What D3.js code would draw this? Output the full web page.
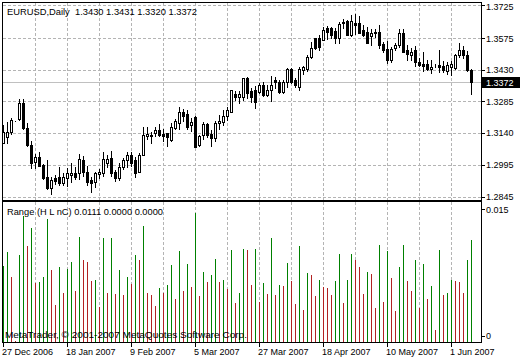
<!DOCTYPE html>
<html>
<head>
<meta charset="utf-8">
<script src="https://cdn.jsdelivr.net/npm/d3@7"></script>
<style>
  body { margin: 0; background: #fff; }
  svg text { font-family: "Liberation Sans", Arial, sans-serif; font-size: 9px; fill: #000; }
  svg text.title { font-size: 9.5px; }
</style>
</head>
<body>
<div id="chart"></div>
<script>
// EURUSD daily, 27 Dec 2006 .. 8 Jun 2007 (118 bars)
var open = [1.3093,1.3123,1.3146,1.3193,1.3204,1.3276,1.3161,1.3085,1.3008,1.3031,1.2993,1.2939,1.2886,1.2932,1.2937,1.2912,1.2932,1.2947,1.2955,1.2955,
  1.3016,1.2962,1.2924,1.2916,1.2950,1.2958,1.3001,1.3024,1.2962,1.2932,1.2985,1.3016,1.3039,1.3016,1.2959,1.3039,1.3127,1.3128,1.3141,1.3153,
  1.3135,1.3138,1.3108,1.3163,1.3184,1.3237,1.3227,1.3176,1.3212,1.3085,1.3131,1.3181,1.3135,1.3115,1.3184,1.3192,1.3218,1.3237,1.3318,1.3306,
  1.3306,1.3390,1.3332,1.3337,1.3328,1.3360,1.3314,1.3337,1.3383,1.3375,1.3329,1.3375,1.3433,1.3383,1.3352,1.3428,1.3433,1.3489,1.3574,1.3576,
  1.3566,1.3620,1.3620,1.3607,1.3574,1.3650,1.3653,1.3589,1.3642,1.3642,1.3612,1.3603,1.3584,1.3603,1.3603,1.3548,1.3527,1.3474,1.3528,1.3543,
  1.3596,1.3520,1.3497,1.3522,1.3465,1.3458,1.3455,1.3433,1.3447,1.3451,1.3447,1.3426,1.3444,1.3436,1.3495,1.3520,1.3497,1.3430];
var high = [1.3176,1.3192,1.3208,1.3194,1.3296,1.3296,1.3184,1.3103,1.3043,1.3053,1.2998,1.3016,1.2939,1.2945,1.2982,1.2956,1.2979,1.3001,1.2984,1.3043,
  1.3034,1.2988,1.2938,1.2962,1.2973,1.3054,1.3039,1.3057,1.2970,1.3002,1.3027,1.3053,1.3053,1.3031,1.3048,1.3167,1.3167,1.3144,1.3165,1.3183,
  1.3158,1.3140,1.3185,1.3204,1.3257,1.3250,1.3245,1.3208,1.3218,1.3131,1.3190,1.3185,1.3153,1.3195,1.3222,1.3245,1.3257,1.3339,1.3332,1.3332,
  1.3394,1.3398,1.3346,1.3355,1.3369,1.3373,1.3360,1.3401,1.3396,1.3383,1.3383,1.3438,1.3438,1.3392,1.3442,1.3447,1.3497,1.3558,1.3577,1.3589,
  1.3626,1.3630,1.3626,1.3621,1.3648,1.3662,1.3657,1.3681,1.3683,1.3678,1.3635,1.3626,1.3616,1.3616,1.3635,1.3557,1.3561,1.3534,1.3552,1.3616,
  1.3616,1.3543,1.3529,1.3538,1.3483,1.3511,1.3474,1.3474,1.3454,1.3520,1.3470,1.3465,1.3472,1.3502,1.3552,1.3538,1.3516,1.3431];
var low = [1.3093,1.3095,1.3137,1.3193,1.3199,1.3158,1.3079,1.2979,1.2979,1.2987,1.2927,1.2882,1.2860,1.2905,1.2900,1.2903,1.2899,1.2914,1.2928,1.2928,
  1.2944,1.2901,1.2871,1.2894,1.2935,1.2941,1.2985,1.2944,1.2918,1.2923,1.2976,1.2982,1.2990,1.2936,1.2959,1.3039,1.3113,1.3093,1.3126,1.3124,
  1.3104,1.3078,1.3101,1.3157,1.3158,1.3194,1.3160,1.3148,1.3077,1.3081,1.3114,1.3120,1.3080,1.3104,1.3156,1.3177,1.3199,1.3237,1.3289,1.3278,
  1.3292,1.3298,1.3284,1.3253,1.3325,1.3309,1.3308,1.3288,1.3345,1.3321,1.3322,1.3352,1.3371,1.3351,1.3337,1.3412,1.3422,1.3485,1.3527,1.3521,
  1.3566,1.3571,1.3575,1.3554,1.3552,1.3619,1.3589,1.3585,1.3594,1.3596,1.3583,1.3550,1.3542,1.3579,1.3529,1.3513,1.3462,1.3464,1.3518,1.3534,
  1.3510,1.3476,1.3473,1.3448,1.3446,1.3426,1.3427,1.3413,1.3441,1.3420,1.3419,1.3411,1.3404,1.3435,1.3486,1.3485,1.3426,1.3320];
var close = [1.3146,1.3146,1.3199,1.3193,1.3277,1.3161,1.3085,1.3001,1.3031,1.2990,1.2933,1.2886,1.2924,1.2921,1.2909,1.2937,1.2955,1.2956,1.2939,1.3019,
  1.2962,1.2916,1.2909,1.2955,1.2962,1.3019,1.3019,1.2958,1.2932,1.2985,1.3016,1.3039,1.3001,1.2955,1.3039,1.3131,1.3135,1.3131,1.3153,1.3131,
  1.3126,1.3123,1.3169,1.3195,1.3237,1.3219,1.3169,1.3192,1.3077,1.3126,1.3181,1.3131,1.3115,1.3187,1.3196,1.3218,1.3245,1.3337,1.3306,1.3318,
  1.3390,1.3322,1.3305,1.3283,1.3360,1.3314,1.3337,1.3360,1.3373,1.3329,1.3375,1.3433,1.3375,1.3360,1.3433,1.3441,1.3489,1.3528,1.3528,1.3535,
  1.3612,1.3604,1.3589,1.3574,1.3638,1.3642,1.3589,1.3653,1.3635,1.3598,1.3589,1.3554,1.3598,1.3596,1.3545,1.3522,1.3474,1.3527,1.3543,1.3596,
  1.3512,1.3502,1.3512,1.3466,1.3451,1.3447,1.3435,1.3444,1.3447,1.3444,1.3428,1.3451,1.3454,1.3497,1.3520,1.3497,1.3428,1.3372];
// Range indicator (high - low) as read from the lower window
var range = [0.0083,0.0098,0.0071,0.0001,0.0095,0.0138,0.0105,0.0124,0.0064,0.0066,0.0071,0.0134,0.0079,0.0040,0.0082,0.0053,0.0080,0.0087,0.0056,0.0115,
  0.0090,0.0087,0.0067,0.0068,0.0038,0.0113,0.0054,0.0113,0.0052,0.0079,0.0051,0.0071,0.0063,0.0095,0.0089,0.0127,0.0054,0.0051,0.0039,0.0059,
  0.0054,0.0062,0.0084,0.0047,0.0099,0.0056,0.0085,0.0060,0.0141,0.0050,0.0076,0.0065,0.0073,0.0091,0.0066,0.0068,0.0058,0.0100,0.0043,0.0054,
  0.0102,0.0100,0.0062,0.0102,0.0044,0.0064,0.0052,0.0113,0.0051,0.0062,0.0061,0.0086,0.0067,0.0041,0.0105,0.0035,0.0075,0.0073,0.0050,0.0068,
  0.0060,0.0059,0.0051,0.0067,0.0096,0.0043,0.0068,0.0096,0.0089,0.0082,0.0052,0.0076,0.0074,0.0037,0.0106,0.0044,0.0099,0.0070,0.0034,0.0082,
  0.0106,0.0067,0.0056,0.0090,0.0037,0.0085,0.0047,0.0061,0.0013,0.0100,0.0051,0.0054,0.0068,0.0067,0.0066,0.0053,0.0090,0.0111];

var priceTicks = [1.3725, 1.3575, 1.3430, 1.3285, 1.3140, 1.2995, 1.2845];
var rangeTicks = ["0.015", "0"];
var dateTickIdx = [0, 16, 32, 48, 64, 80, 96, 112];
var dateTickLabels = ["27 Dec 2006", "18 Jan 2007", "9 Feb 2007", "5 Mar 2007", "27 Mar 2007", "18 Apr 2007", "10 May 2007", "1 Jun 2007"];

var W = 520, H = 360;
var left = 2, right = 481;
var mainTop = 2, mainBot = 200;
var indTop = 201, indBot = 342;
var gridColor = "#b4b4b4";

var svg = d3.select("#chart").append("svg")
    .attr("width", W)
    .attr("height", H);

var n = close.length;
var x = d3.scaleLinear().domain([0, n - 1]).range([3.5, 3.5 + 4 * (n - 1)]);
var y = d3.scaleLinear().domain([1.2845, 1.3725]).range([197.3, 5.3]);
var yr = d3.scaleLinear().domain([0, 0.015]).range([indBot, 204.6]);

function py(v) { return Math.round(y(v)) + 0.5; }

// grid - main window and indicator window
var grid = svg.append("g").attr("stroke", gridColor).attr("stroke-dasharray", "3,2");
grid.selectAll("line.h").data(priceTicks).enter().append("line")
    .attr("x1", left + 1).attr("x2", right)
    .attr("y1", function(d) { return py(d); })
    .attr("y2", function(d) { return py(d); });
var vIdx = d3.range(8, n, 8);
grid.selectAll("line.v").data(vIdx).enter().append("line")
    .attr("x1", function(d) { return x(d); }).attr("x2", function(d) { return x(d); })
    .attr("y1", mainTop + 1).attr("y2", mainBot);
grid.selectAll("line.vi").data(vIdx).enter().append("line")
    .attr("x1", function(d) { return x(d); }).attr("x2", function(d) { return x(d); })
    .attr("y1", indTop + 1).attr("y2", indBot);

// last price line
var last = close[n - 1];
svg.append("line")
    .attr("x1", left + 1).attr("x2", right)
    .attr("y1", py(last)).attr("y2", py(last))
    .attr("stroke", "#c0c0c0");

// candles
var candles = svg.append("g").selectAll("g").data(d3.range(n)).enter().append("g");
candles.append("line")
    .attr("x1", function(i) { return x(i); }).attr("x2", function(i) { return x(i); })
    .attr("y1", function(i) { return py(high[i]) - 0.5; })
    .attr("y2", function(i) { return py(low[i]) + 0.5; })
    .attr("stroke", "#000");
candles.append("rect")
    .attr("x", function(i) { return x(i) - 1; })
    .attr("width", 2)
    .attr("y", function(i) { return py(Math.max(open[i], close[i])); })
    .attr("height", function(i) { return py(Math.min(open[i], close[i])) - py(Math.max(open[i], close[i])); })
    .attr("fill", function(i) { return close[i] >= open[i] ? "#fff" : "#000"; })
    .attr("stroke", "#000");

// range bars, green when the range grows, red when it shrinks
svg.append("g").selectAll("line").data(d3.range(n)).enter().append("line")
    .attr("x1", function(i) { return x(i); }).attr("x2", function(i) { return x(i); })
    .attr("y1", indBot)
    .attr("y2", function(i) { return Math.round(yr(range[i])); })
    .attr("stroke", function(i) { return (i == 0 || range[i] > range[i - 1]) ? "#008000" : "#b22222"; });

// frames
svg.append("rect").attr("x", left + 0.5).attr("y", mainTop + 0.5)
    .attr("width", right - left).attr("height", mainBot - mainTop)
    .attr("fill", "none").attr("stroke", "#000");
svg.append("rect").attr("x", left + 0.5).attr("y", indTop + 0.5)
    .attr("width", right - left).attr("height", indBot - indTop)
    .attr("fill", "none").attr("stroke", "#000");

// price axis
var axisG = svg.append("g");
axisG.selectAll("line").data(priceTicks).enter().append("line")
    .attr("x1", right).attr("x2", right + 4)
    .attr("y1", function(d) { return py(d); }).attr("y2", function(d) { return py(d); })
    .attr("stroke", "#000");
axisG.selectAll("text").data(priceTicks).enter().append("text")
    .attr("x", right + 5)
    .attr("y", function(d) { return Math.min(Math.max(y(d), 6), 196) + 3.5; })
    .text(function(d) { return d.toFixed(4); });

// last price tag
svg.append("rect").attr("x", right + 1).attr("y", py(last) - 5.5)
    .attr("width", W - right - 1).attr("height", 11).attr("fill", "#000");
svg.append("text").attr("x", right + 5).attr("y", py(last) + 3.5)
    .style("fill", "#fff").text(last.toFixed(4));

// range axis
var rangeLabelY = [yr(0.015) + 4.5, yr(0) - 6.5];
rangeTicks.forEach(function(t, k) {
    svg.append("line").attr("x1", right).attr("x2", right + 4)
        .attr("y1", Math.round(rangeLabelY[k]) + 0.5).attr("y2", Math.round(rangeLabelY[k]) + 0.5)
        .attr("stroke", "#000");
    svg.append("text").attr("x", right + 5).attr("y", rangeLabelY[k] + 3.5).text(t);
});

// date axis
svg.selectAll("line.dt").data(dateTickIdx).enter().append("line")
    .attr("x1", function(d) { return x(d); }).attr("x2", function(d) { return x(d); })
    .attr("y1", indBot).attr("y2", indBot + 5)
    .attr("stroke", "#000");
svg.selectAll("text.dt").data(dateTickIdx).enter().append("text")
    .attr("x", function(d) { return x(d) - 1.5; })
    .attr("y", 355)
    .text(function(d, k) { return dateTickLabels[k]; });

// titles
svg.append("text").attr("class", "title").attr("x", 7).attr("y", 14.5)
    .attr("xml:space", "preserve")
    .attr("textLength", 190).attr("lengthAdjust", "spacingAndGlyphs")
    .text("EURUSD,Daily  " + [open[n - 1], high[n - 1], low[n - 1], close[n - 1]].map(function(v) { return v.toFixed(4); }).join(" "));
svg.append("text").attr("class", "title").attr("x", 7).attr("y", 214.5)
    .attr("textLength", 156).attr("lengthAdjust", "spacingAndGlyphs")
    .text("Range (H L nC) " + range[n - 1].toFixed(4) + " 0.0000 0.0000");
svg.append("text").attr("class", "title").attr("x", 5).attr("y", 337.5)
    .attr("textLength", 242).attr("lengthAdjust", "spacingAndGlyphs")
    .text("MetaTrader, \u00a9 2001-2007 MetaQuotes Software Corp.");
</script>
</body>
</html>
